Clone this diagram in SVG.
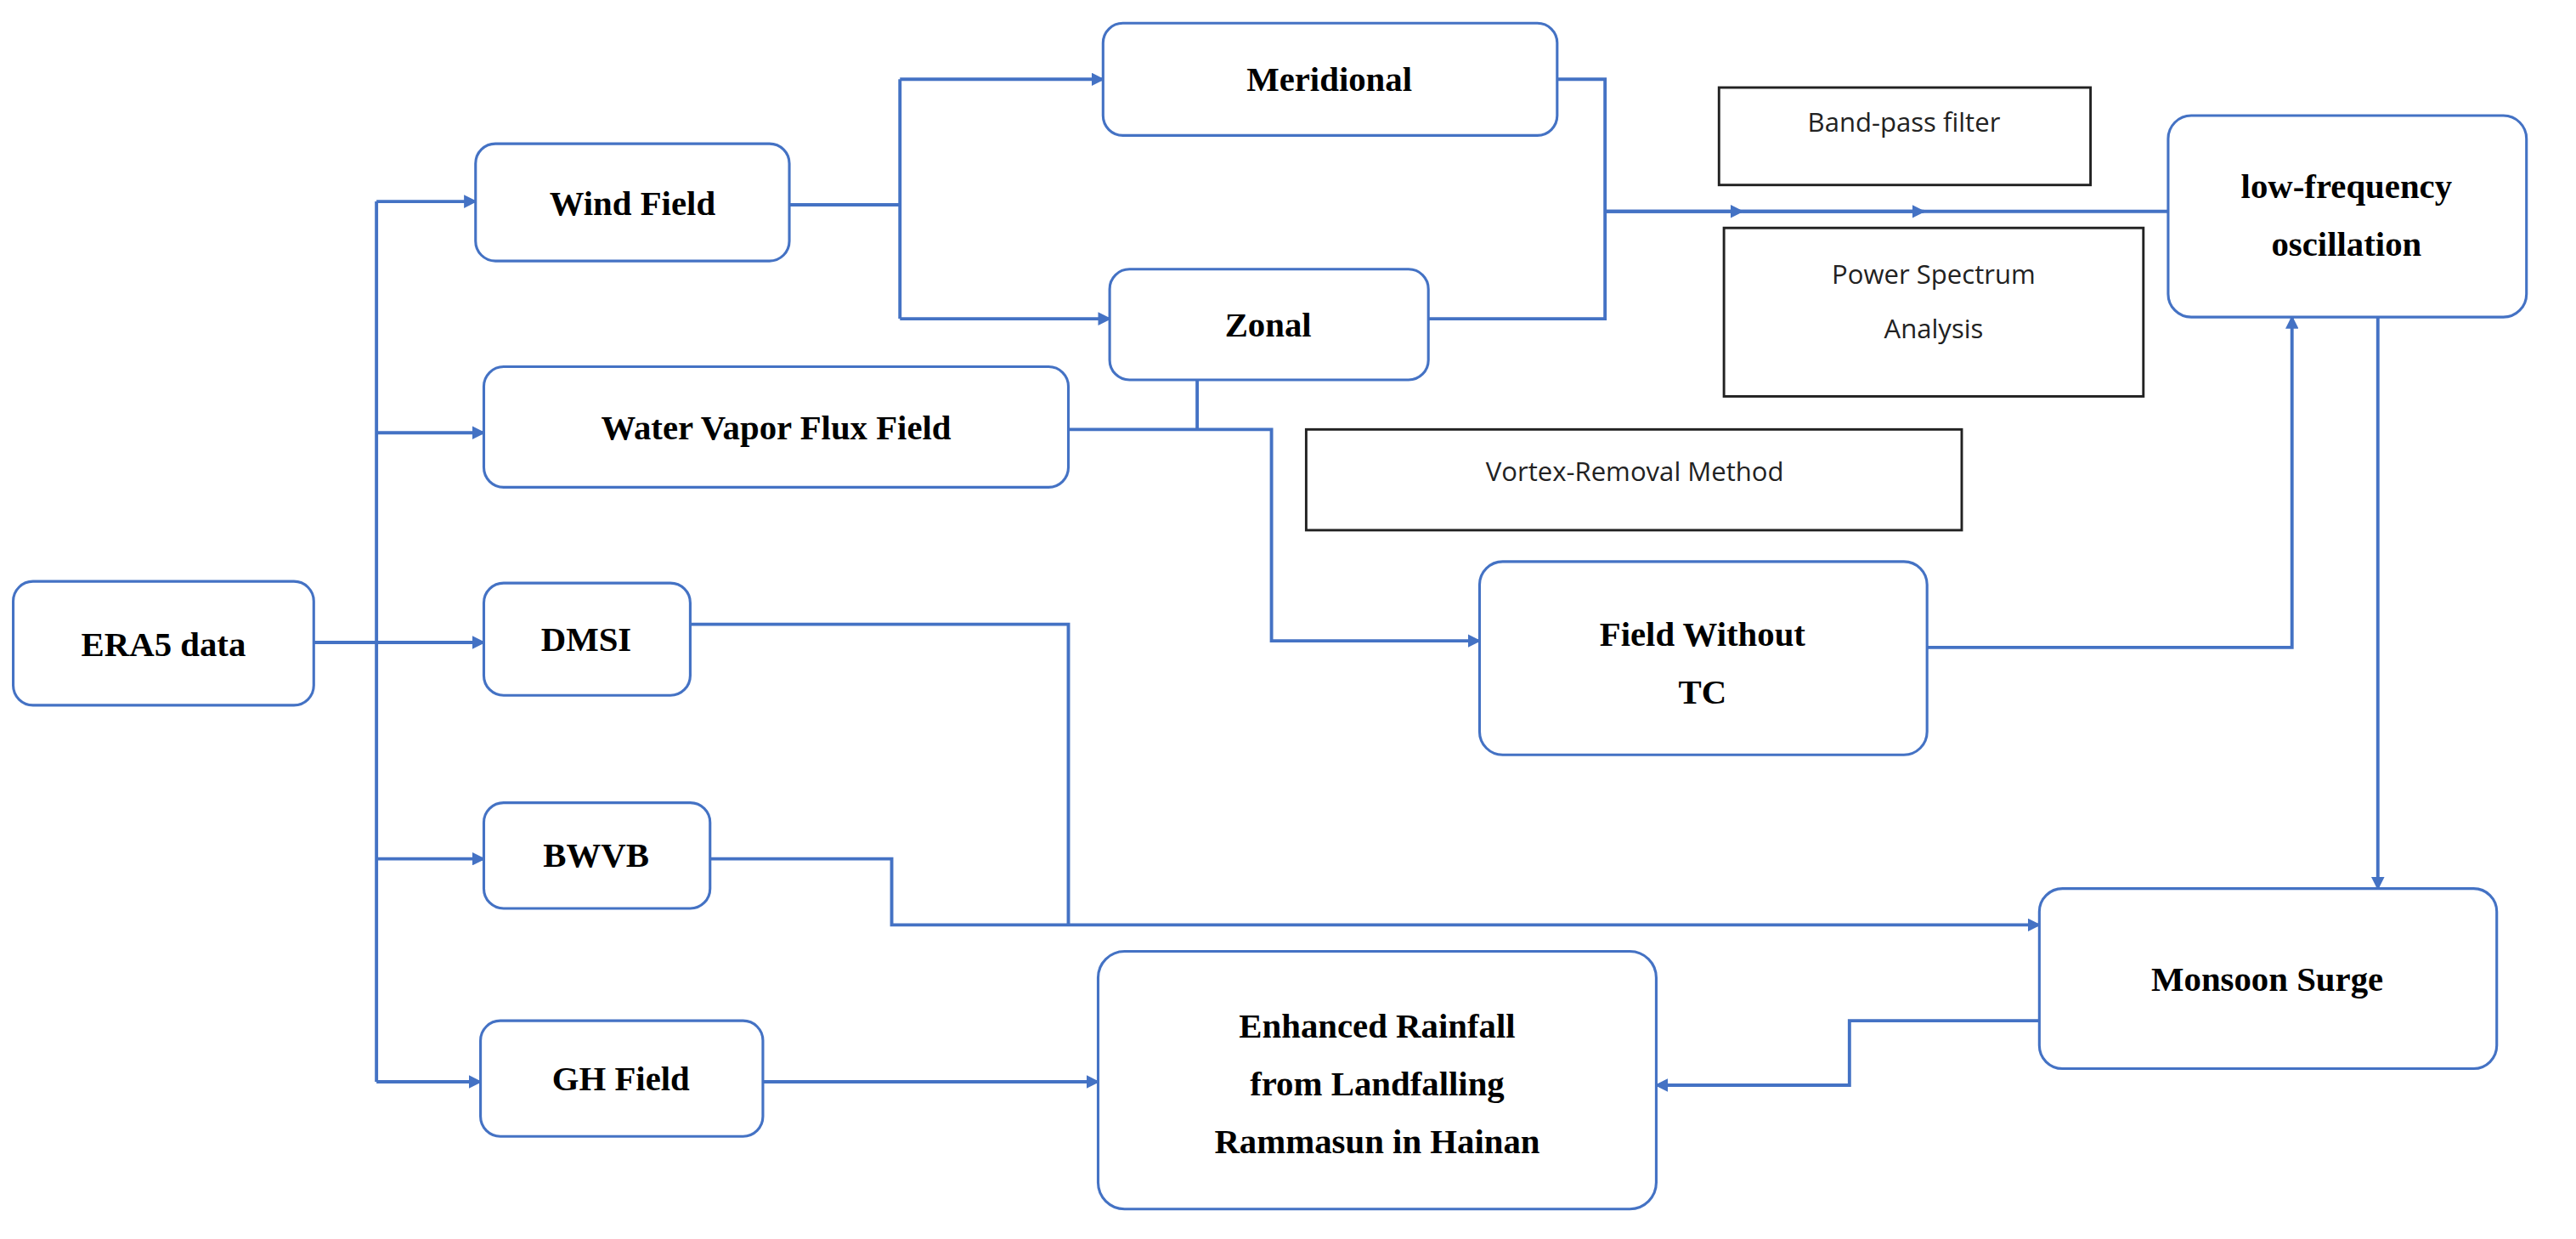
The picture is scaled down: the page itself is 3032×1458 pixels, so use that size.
<svg xmlns="http://www.w3.org/2000/svg" width="3032" height="1458" viewBox="0 0 3032 1458">
<defs>
<marker id="ah" markerWidth="8" markerHeight="8" refX="7" refY="4" orient="auto" markerUnits="userSpaceOnUse"><path d="M0,0 L8,4 L0,8 z" fill="#4472C4"/></marker>
<style>
.n{fill:#fff;stroke:#4472C4;stroke-width:1.6}
.b{fill:#fff;stroke:#222;stroke-width:1.5}
.t{font-family:"Liberation Serif",serif;font-weight:bold;font-size:21px;fill:#000;text-anchor:middle}
.s{font-family:"Open Sans","DejaVu Sans",sans-serif;font-size:16px;fill:#222;text-anchor:middle}
.c{fill:none;stroke:#4472C4;stroke-width:2}
.a{marker-end:url(#ah)}
</style>
</defs>
<rect width="3032" height="1458" fill="#fff"/>
<g transform="scale(1.9436)">
<g id="connectors">
<path class="c" d="M190,389 H228 M228,122 V655"/>
<path class="c a" d="M228,122 H288"/>
<path class="c a" d="M228,262 H293"/>
<path class="c a" d="M228,389 H293"/>
<path class="c a" d="M228,520 H293"/>
<path class="c a" d="M228,655 H291"/>
<path class="c" d="M478,124 H545 M545,48 V193"/>
<path class="c a" d="M545,48 H668"/>
<path class="c a" d="M545,193 H672"/>
<path class="c" d="M943,48 H972 V193 H865 M972,128 H1313"/>
<path class="c a" d="M972,128 H1055"/>
<path class="c a" d="M1055,128 H1165"/>
<path class="c" d="M725,230 V260"/>
<path class="c a" d="M647,260 H770 V388 H896"/>
<path class="c a" d="M1167,392 H1388 V192"/>
<path class="c a" d="M1440,192 V538"/>
<path class="c" d="M418,378 H647 V560"/>
<path class="c a" d="M430,520 H540 V560 H1235"/>
<path class="c a" d="M1235,618 H1120 V657 H1003"/>
<path class="c a" d="M462,655 H665"/>
</g>
<g id="era5"><rect class="n" x="8" y="352" width="182" height="75" rx="12"/><text class="t" x="99" y="397">ERA5 data</text></g>
<g id="wind"><rect class="n" x="288" y="87" width="190" height="71" rx="12"/><text class="t" x="383" y="130">Wind Field</text></g>
<g id="wvf"><rect class="n" x="293" y="222" width="354" height="73" rx="12"/><text class="t" x="470" y="266">Water Vapor Flux Field</text></g>
<g id="dmsi"><rect class="n" x="293" y="353" width="125" height="68" rx="12"/><text class="t" x="355" y="394">DMSI</text></g>
<g id="bwvb"><rect class="n" x="293" y="486" width="137" height="64" rx="12"/><text class="t" x="361" y="525">BWVB</text></g>
<g id="gh"><rect class="n" x="291" y="618" width="171" height="70" rx="12"/><text class="t" x="376" y="660">GH Field</text></g>
<g id="meridional"><rect class="n" x="668" y="14" width="275" height="68" rx="12"/><text class="t" x="805" y="55">Meridional</text></g>
<g id="zonal"><rect class="n" x="672" y="163" width="193" height="67" rx="12"/><text class="t" x="768" y="204">Zonal</text></g>
<g id="bandpass"><rect class="b" x="1041" y="53" width="225" height="59"/><text class="s" x="1153" y="80">Band-pass filter</text></g>
<g id="psa"><rect class="b" x="1044" y="138" width="254" height="102"/><text class="s" x="1171" y="172">Power Spectrum</text><text class="s" x="1171" y="205">Analysis</text></g>
<g id="vortex"><rect class="b" x="791" y="260" width="397" height="61"/><text class="s" x="990" y="291">Vortex-Removal Method</text></g>
<g id="lfo"><rect class="n" x="1313" y="70" width="217" height="122" rx="14"/><text class="t" x="1421" y="120">low-frequency</text><text class="t" x="1421" y="155">oscillation</text></g>
<g id="fwtc"><rect class="n" x="896" y="340" width="271" height="117" rx="14"/><text class="t" x="1031" y="391">Field Without</text><text class="t" x="1031" y="426">TC</text></g>
<g id="monsoon"><rect class="n" x="1235" y="538" width="277" height="109" rx="14"/><text class="t" x="1373" y="600">Monsoon Surge</text></g>
<g id="rain"><rect class="n" x="665" y="576" width="338" height="156" rx="16"/><text class="t" x="834" y="628">Enhanced Rainfall</text><text class="t" x="834" y="663">from Landfalling</text><text class="t" x="834" y="698">Rammasun in Hainan</text></g>
</g>
</svg>
